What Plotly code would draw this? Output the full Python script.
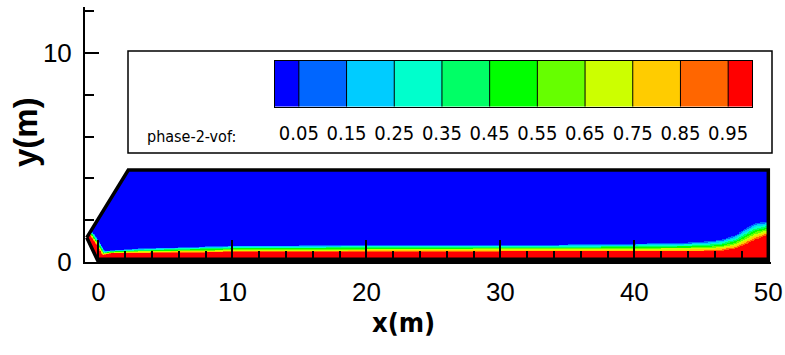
import numpy as np
import plotly.graph_objects as go

# ---------------- data ----------------
levels = [0.05, 0.15, 0.25, 0.35, 0.45, 0.55, 0.65, 0.75, 0.85, 0.95]
level_labels = ["0.05", "0.15", "0.25", "0.35", "0.45", "0.55", "0.65", "0.75", "0.85", "0.95"]
band_colors = ["#0000ff", "#0066ff", "#00ccff", "#00ffcc", "#00ff66", "#00ff00",
               "#66ff00", "#ccff00", "#ffcc00", "#ff6600", "#ff0000"]
legend_title = "phase-2-vof:"

# channel outline (m)
domain_x = [-0.87, 2.23, 50.0, 50.0, 0.0, -0.87]
domain_y = [1.17, 4.40, 4.40, 0.0, 0.0, 1.17]

# read-off heights (m) of the 0.05 and 0.95 vof iso-lines along the channel
station_x = [-1.0, 0.0, 1.0, 3.0, 6.0, 10.0, 15.0, 20.0, 25.0, 30.0, 35.0, 40.0,
             42.0, 44.0, 45.5, 46.5, 47.5, 48.2, 49.0, 50.0]
h_vof05 = [0.25, 0.45, 0.55, 0.62, 0.68, 0.76, 0.78, 0.80, 0.80, 0.80, 0.82, 0.86,
           0.90, 0.92, 0.97, 1.05, 1.25, 1.55, 1.85, 1.93]
h_vof95 = [0.12, 0.28, 0.38, 0.41, 0.43, 0.45, 0.46, 0.47, 0.47, 0.48, 0.48, 0.48,
           0.48, 0.48, 0.49, 0.52, 0.62, 0.80, 1.05, 1.30]

x_ticks_major = [0, 10, 20, 30, 40, 50]
y_ticks_major = [0, 10]

# ---------------- field construction ----------------
PXX, PXY = 13.4, 20.9          # px per metre (for wall distance in screen space)
xc = np.arange(-1.0, 50.0 + 1e-9, 0.05)
yc = np.arange(0.0, 4.42, 0.02)
X, Y = np.meshgrid(xc, yc)

ax_, ay_ = domain_x[0], domain_y[0]
cx_, cy_ = domain_x[1], domain_y[1]
x_left = np.where(Y <= ay_, ax_ * (Y / ay_), ax_ + (cx_ - ax_) * (Y - ay_) / (cy_ - ay_))
inside = (X >= x_left) & (X <= domain_x[2]) & (Y <= domain_y[1])

bx, by = 0.0, 0.0
vx, vy = (bx - ax_) * PXX, (by - ay_) * PXY
px_, py_ = (X - ax_) * PXX, (Y - ay_) * PXY
tpar = np.clip((px_ * vx + py_ * vy) / (vx * vx + vy * vy), 0, 1)
d_slope = np.hypot(px_ - tpar * vx, py_ - tpar * vy)
d_bottom = np.where(X >= 0, Y * PXY, np.inf)
d = np.minimum(d_slope, d_bottom)

t05 = np.interp(X, station_x, h_vof05) * PXY
t95 = np.interp(X, station_x, h_vof95) * PXY
vof = np.clip(0.95 - 0.9 * (d - t95) / (t05 - t95), 0.0, 1.0)
vof = np.where(inside, vof, np.nan)

edges = [0.0] + levels + [1.0]
colorscale = []
for i, c in enumerate(band_colors):
    colorscale.append([edges[i], c])
    colorscale.append([edges[i + 1], c])

COND = "DejaVu Sans Condensed, Liberation Sans Narrow, sans-serif"
SANS = "Liberation Sans, Arial, sans-serif"

fig = go.Figure()
fig.add_trace(go.Heatmap(x=xc, y=yc, z=vof, zmin=0, zmax=1, colorscale=colorscale,
                         showscale=False, hoverinfo="skip", zsmooth=False))
fig.add_trace(go.Scatter(x=domain_x, y=domain_y, mode="lines",
                         line=dict(color="black", width=3.5), hoverinfo="skip", showlegend=False))
fig.add_trace(go.Scatter(x=[domain_x[4], domain_x[3]], y=[domain_y[4], domain_y[3]], mode="lines",
                         line=dict(color="black", width=9), hoverinfo="skip", showlegend=False))

# legend colour bar built on its own axes
cell_centers = [(edges[i] + edges[i + 1]) / 2 for i in range(len(band_colors))]
fig.add_trace(go.Heatmap(x=edges, y=[-0.5, 0.5], z=[cell_centers], zmin=0, zmax=1,
                         colorscale=colorscale, showscale=False, hoverinfo="skip",
                         xaxis="x2", yaxis="y2"))
sx, sy = [], []
for l in levels:
    sx += [l, l, None]
    sy += [-0.5, 0.5, None]
fig.add_trace(go.Scatter(x=sx, y=sy, mode="lines", line=dict(color="black", width=1),
                         hoverinfo="skip", showlegend=False, xaxis="x2", yaxis="y2"))

W, H = 785, 355
ML, MR, MT, MB = 85, 14, 7, 93
PW, PH = W - ML - MR, H - MT - MB


def px2paper_x(p):
    return (p - ML) / PW


def px2paper_y(p):
    return (H - MB - p) / PH


fig.update_layout(
    template="none",
    width=W, height=H,
    margin=dict(l=ML, r=MR, t=MT, b=MB, pad=0),
    paper_bgcolor="white", plot_bgcolor="white",
    showlegend=False,
    xaxis=dict(range=[-1, 50.2], tickmode="array", tickvals=x_ticks_major,
               ticktext=[str(v) for v in x_ticks_major],
               ticks="inside", ticklen=22, tickwidth=2, tickcolor="black",
               showline=True, linecolor="black", linewidth=2, automargin=False,
               showgrid=False, zeroline=False, ticklabelstandoff=6,
               tickfont=dict(family=SANS, size=26, color="black"),
               minor=dict(ticks="inside", ticklen=11, tickwidth=1.5, tickcolor="black",
                          dtick=2, tick0=0, showgrid=False)),
    yaxis=dict(range=[0, 12.2], tickmode="array", tickvals=y_ticks_major,
               ticktext=[str(v) for v in y_ticks_major],
               ticks="inside", ticklen=14, tickwidth=2, tickcolor="black",
               showline=True, linecolor="black", linewidth=2, automargin=False,
               showgrid=False, zeroline=False, ticklabelstandoff=6,
               tickfont=dict(family=SANS, size=26, color="black"),
               minor=dict(ticks="inside", ticklen=9, tickwidth=1.5, tickcolor="black",
                          dtick=2, tick0=0, showgrid=False)),
    xaxis2=dict(domain=[px2paper_x(275), px2paper_x(752)], anchor="y2", range=[0, 1],
                tickmode="array", tickvals=levels, ticktext=level_labels, ticks="",
                showline=True, mirror=True, linecolor="black", linewidth=1, automargin=False,
                showgrid=False, zeroline=False, ticklabelstandoff=8,
                tickfont=dict(family=COND, size=20, color="black")),
    yaxis2=dict(domain=[px2paper_y(106.7), px2paper_y(60.7)], anchor="x2", range=[-0.5, 0.5],
                showticklabels=False, ticks="", showline=True, mirror=True, automargin=False,
                linecolor="black", linewidth=1, showgrid=False, zeroline=False),
    shapes=[dict(type="rect", xref="paper", yref="paper",
                 x0=px2paper_x(128), x1=px2paper_x(772),
                 y0=px2paper_y(153), y1=px2paper_y(51),
                 fillcolor="white", line=dict(color="black", width=1.5), layer="below")],
    annotations=[
        dict(text=legend_title, xref="paper", yref="paper",
             x=px2paper_x(238), y=px2paper_y(136), xanchor="right", yanchor="middle",
             showarrow=False, font=dict(family=COND, size=16, color="black")),
        dict(text="<b>x(m)</b>", xref="paper", yref="paper",
             x=px2paper_x(403), y=px2paper_y(322), xanchor="center", yanchor="middle",
             showarrow=False, font=dict(family=COND, size=27, color="black")),
        dict(text="<b>y(m)</b>", xref="paper", yref="paper", textangle=-90,
             x=px2paper_x(25), y=px2paper_y(132), xanchor="center", yanchor="middle",
             showarrow=False, font=dict(family=SANS, size=33, color="black")),
    ],
)

fig.write_html("out.html", config={"displayModeBar": False},
               post_script="document.body.style.margin='0px';")
